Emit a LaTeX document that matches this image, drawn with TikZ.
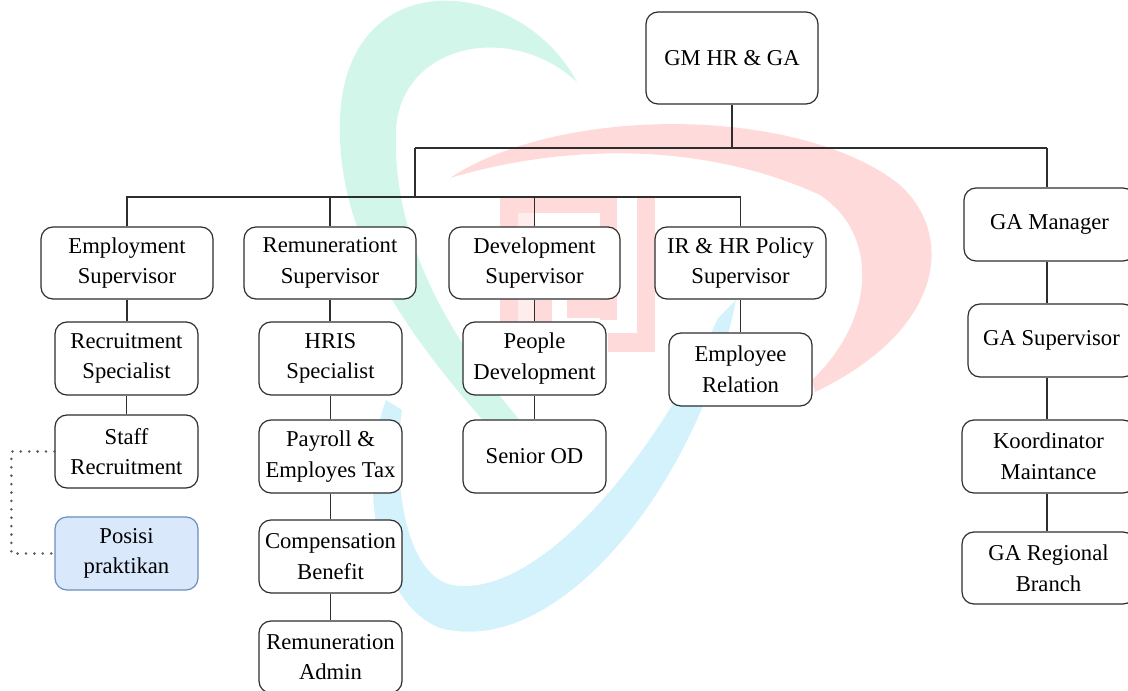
\documentclass[tikz,border=0pt]{standalone}
\usepackage{fontspec}
\setmainfont{Liberation Serif}
\definecolor{lineC}{HTML}{2E2E2E}
\definecolor{wmGreen}{HTML}{D2F6EA}
\definecolor{wmPink}{HTML}{FFDADA}
\definecolor{wmPinkL}{HTML}{FFEDED}
\definecolor{wmBlue}{HTML}{D4F2FC}
\definecolor{posFill}{HTML}{DAE8FC}
\definecolor{posDraw}{HTML}{6C8EBF}
\begin{document}
\begin{tikzpicture}[x=0.75pt,y=-0.75pt,
  box/.style={draw=lineC, line width=0.9pt, fill=white, rounded corners=9pt,
    align=center, inner sep=0pt, font=\fontsize{17}{23}\selectfont, text=black},
  link/.style={draw=lineC, line width=0.9pt},
  dotlink/.style={draw=lineC!80, line width=2.1pt, line cap=round, dash pattern=on 0pt off 6.3pt}]
\useasboundingbox (0,0) rectangle (1128,691);
% watermark
\fill[wmGreen] (577,82) .. controls (520,-25) and (345,-40) .. (340,120)
  .. controls (336,240) and (410,340) .. (505,445)
  -- (530,432) .. controls (440,330) and (392,230) .. (396,130)
  .. controls (400,45) and (510,20) .. (577,82) -- cycle;
\fill[wmBlue] (386,400) .. controls (360,470) and (370,600) .. (440,628)
  .. controls (560,660) and (700,480) .. (736,300)
  -- (718,318) .. controls (660,450) and (540,600) .. (452,585)
  .. controls (405,575) and (392,480) .. (402,410) -- cycle;
\fill[wmPink] (450,178) .. controls (560,105) and (800,105) .. (900,185)
  .. controls (955,235) and (945,330) .. (815,392)
  -- (812,380) .. controls (875,320) and (880,235) .. (820,195)
  .. controls (700,140) and (560,145) .. (450,178) -- cycle;
\fill[wmPink] (500,197) rectangle (518,322);
\fill[wmPink] (500,197) rectangle (617,213);
\fill[wmPink] (600,197) rectangle (617,320);
\fill[wmPink] (567,300) rectangle (617,318);
\fill[wmPink] (535,300) rectangle (552,322);
\fill[wmPink] (637,197) rectangle (655,352);
\fill[wmPink] (608,333) rectangle (655,352);
\fill[wmPinkL] (518,213) rectangle (535,322);
% nodes
\node[box, minimum width=129pt, minimum height=69pt] (gm) at (732,58) {GM HR \& GA};
\node[box, minimum width=129pt, minimum height=54pt] (emp) at (127,263) {Employment\\Supervisor};
\node[box, minimum width=129pt, minimum height=54pt] (rem) at (330,263) {Remunerationt\\Supervisor};
\node[box, minimum width=128.25pt, minimum height=54pt] (dev) at (534.5,263) {Development\\Supervisor};
\node[box, minimum width=128.25pt, minimum height=54pt] (ir) at (740.5,263) {IR \& HR Policy\\Supervisor};
\node[box, minimum width=128.25pt, minimum height=54.75pt] (gam) at (1049.5,224.5) {GA Manager};
\node[box, minimum width=107.25pt, minimum height=54.75pt] (rec) at (126.5,358.5) {Recruitment\\Specialist};
\node[box, minimum width=107.25pt, minimum height=54.75pt] (staff) at (126.5,451.5) {Staff\\Recruitment};
\node[box, draw=posDraw, fill=posFill, minimum width=107.25pt, minimum height=54.75pt] (pos) at (126.5,553.5) {Posisi\\praktikan};
\node[box, minimum width=107.25pt, minimum height=54.75pt] (hris) at (330.5,358.5) {HRIS\\Specialist};
\node[box, minimum width=107.25pt, minimum height=54.75pt] (pay) at (330.5,456.5) {Payroll \&\\Employes Tax};
\node[box, minimum width=107.25pt, minimum height=54.75pt] (comp) at (330.5,556.5) {Compensation\\Benefit};
\node[box, minimum width=107.25pt, minimum height=54pt] (radm) at (330.5,657) {Remuneration\\Admin};
\node[box, minimum width=107.25pt, minimum height=54.75pt] (ppl) at (534.5,358.5) {People\\Development};
\node[box, minimum width=107.25pt, minimum height=54.75pt] (sod) at (534.5,456.5) {Senior OD};
\node[box, minimum width=107.25pt, minimum height=54.75pt] (er) at (740.5,369.5) {Employee\\Relation};
\node[box, minimum width=125.25pt, minimum height=54.75pt] (gas) at (1051.5,340.5) {GA Supervisor};
\node[box, minimum width=129.75pt, minimum height=54.75pt] (kor) at (1048.5,456.5) {Koordinator\\Maintance};
\node[box, minimum width=129.75pt, minimum height=54pt] (gar) at (1048.5,568) {GA Regional\\Branch};
% bus coordinates
\coordinate (b1l) at (415,148);
\coordinate (b1r) at (1047,148);
\coordinate (b2) at (415,197);
% connectors
\draw[link] (gm.south) -- (gm.south |- b1l);
\draw[link] (b1l) -- (b1r);
\draw[link] (b1r) -- (b1r |- gam.north);
\draw[link] (b1l) -- (b2);
\draw[link] (emp.north) -- (emp.north |- b2) -- (ir.north |- b2) -- (ir.north);
\draw[link] (rem.north) -- (rem.north |- b2);
\draw[link] (dev.north) -- (dev.north |- b2);
\draw[link] (emp.south) -- (emp.south |- rec.north);
\draw[link] (rec.south) -- (staff.north);
\draw[link] (rem.south) -- (rem.south |- hris.north);
\draw[link] (hris.south) -- (pay.north);
\draw[link] (pay.south) -- (comp.north);
\draw[link] (comp.south) -- (radm.north);
\draw[link] (dev.south) -- (ppl.north);
\draw[link] (ppl.south) -- (sod.north);
\draw[link] (ir.south) -- (er.north);
\draw[link] (gam.south -| b1r) -- (b1r |- gas.north);
\draw[link] (b1r |- gas.south) -- (b1r |- kor.north);
\draw[link] (b1r |- kor.south) -- (b1r |- gar.north);
\draw[dotlink] (staff.west) -- ++(-43,0) |- (pos.west);
\end{tikzpicture}
\end{document}
